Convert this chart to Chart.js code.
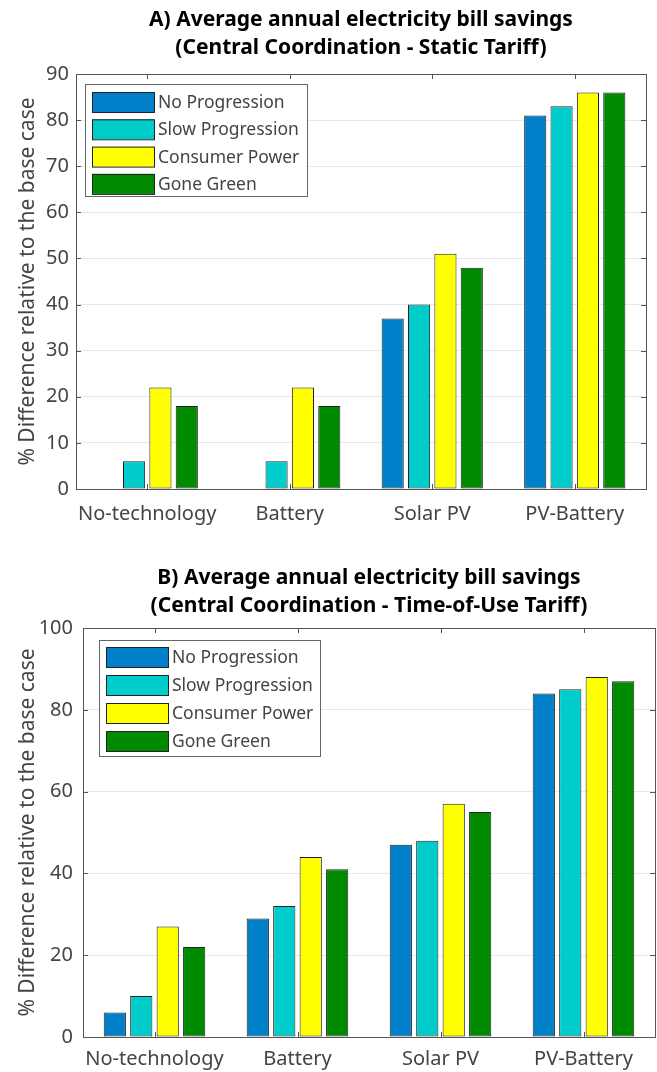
<!DOCTYPE html>
<html>
<head>
<meta charset="utf-8">
<script src="https://cdn.jsdelivr.net/npm/chart.js@4.4.1/dist/chart.umd.min.js"></script>
<style>
  body { margin: 0; background: #fff; width: 657px; height: 1072px; overflow: hidden; position: relative; }
  .box { position: absolute; left: 0; width: 657px; }
</style>
</head>
<body>
<div class="box" style="top:0;height:545px"><canvas id="chartA"></canvas></div>
<div class="box" style="top:560px;height:512px"><canvas id="chartB"></canvas></div>
<script>
const categories = ['No-technology', 'Battery', 'Solar PV', 'PV-Battery'];
const scenarioNames = ['No Progression', 'Slow Progression', 'Consumer Power', 'Gone Green'];
const scenarioColors = ['#0080c8', '#00cccc', '#ffff00', '#008a00'];

// A) static tariff
const staticNoProgression = [0, 0, 37, 81];
const staticSlowProgression = [6, 6, 40, 83];
const staticConsumerPower = [22, 22, 51, 86];
const staticGoneGreen = [18, 18, 48, 86];

// B) time-of-use tariff
const touNoProgression = [6, 29, 47, 84];
const touSlowProgression = [10, 32, 48, 85];
const touConsumerPower = [27, 44, 57, 88];
const touGoneGreen = [22, 41, 55, 87];

const yTicksA = [0, 10, 20, 30, 40, 50, 60, 70, 80, 90];
const yTicksB = [0, 20, 40, 60, 80, 100];

Chart.defaults.font.family = "'Noto Sans', sans-serif";
Chart.defaults.color = '#444';

// box around the plot, inward ticks, legend inside the axes
const matlabAxes = {
  id: 'matlabAxes',
  afterDatasetsDraw(chart, args, opts) {
    const ctx = chart.ctx;
    const a = chart.chartArea;
    const x = chart.scales.x, y = chart.scales.y;
    ctx.save();
    ctx.strokeStyle = '#555';
    ctx.lineWidth = 1;
    ctx.beginPath();
    y.ticks.forEach(t => {
      const py = Math.round(y.getPixelForValue(t.value)) + 0.5;
      ctx.moveTo(a.left, py); ctx.lineTo(a.left + 5, py);
      ctx.moveTo(a.right, py); ctx.lineTo(a.right - 5, py);
    });
    categories.forEach((c, i) => {
      const px = Math.round(x.getPixelForValue(i)) + 0.5;
      ctx.moveTo(px, a.top); ctx.lineTo(px, a.top + 5);
      ctx.moveTo(px, a.bottom); ctx.lineTo(px, a.bottom - 5);
    });
    ctx.stroke();
    ctx.strokeRect(Math.round(a.left) + 0.5, Math.round(a.top) + 0.5, Math.round(a.right - a.left), Math.round(a.bottom - a.top));

    // legend
    const lx = a.left + opts.dx, ly = a.top + opts.dy;
    ctx.fillStyle = '#fff';
    ctx.fillRect(lx, ly, opts.w, opts.h);
    ctx.strokeStyle = '#666';
    ctx.strokeRect(lx + 0.5, ly + 0.5, opts.w, opts.h);
    ctx.font = "17.5px 'Noto Sans', sans-serif";
    ctx.textBaseline = 'middle';
    chart.data.datasets.forEach((ds, i) => {
      const cy = ly + opts.first + i * opts.step;
      ctx.fillStyle = ds.backgroundColor;
      ctx.fillRect(lx + 7, cy - 10, 62, 20);
      ctx.strokeStyle = '#222';
      ctx.strokeRect(lx + 7.5, cy - 9.5, 62, 20);
      ctx.fillStyle = '#444';
      ctx.fillText(ds.label, lx + 73, cy + 1);
    });
    ctx.restore();
  }
};

function makeChart(id, title, series, ticks, max, geo) {
  new Chart(document.getElementById(id), {
    type: 'bar',
    data: {
      labels: categories,
      datasets: series.map((s, i) => ({
        label: scenarioNames[i],
        data: s,
        backgroundColor: scenarioColors[i],
        borderColor: '#222',
        borderWidth: 1,
        borderSkipped: false,
        categoryPercentage: 0.74,
        barPercentage: 0.84
      }))
    },
    options: {
      responsive: true,
      maintainAspectRatio: false,
      animation: false,
      layout: { padding: { left: 0, right: geo.right, top: 0, bottom: 0 } },
      plugins: {
        legend: { display: false },
        tooltip: { enabled: false },
        title: {
          display: true,
          fullSize: false,
          text: title,
          color: '#000',
          font: { size: 21, weight: 'bold', lineHeight: 28 / 21 },
          padding: { top: geo.titleTop, bottom: geo.titleBottom }
        },
        matlabAxes: geo.legend
      },
      scales: {
        x: {
          grid: { display: false, drawTicks: false },
          border: { display: false },
          ticks: { font: { size: 20 }, color: '#444', padding: geo.xPad, maxRotation: 0 },
          afterFit(s) { s.height = geo.xHeight; }
        },
        y: {
          min: 0,
          max: max,
          afterBuildTicks(s) { s.ticks = ticks.map(v => ({ value: v })); },
          grid: { color: '#e8e8e8', drawTicks: false },
          border: { display: false },
          ticks: { font: { size: 20 }, color: '#444', padding: geo.yPad },
          title: {
            display: true,
            text: '% Difference relative to the base case',
            font: { size: 21 },
            color: '#444',
            padding: { top: 15, bottom: 0 }
          },
          afterFit(s) { s.width = geo.yWidth; }
        }
      }
    },
    plugins: [matlabAxes]
  });
}

makeChart('chartA',
  ['A) Average annual electricity bill savings', '(Central Coordination - Static Tariff)'],
  [staticNoProgression, staticSlowProgression, staticConsumerPower, staticGoneGreen],
  yTicksA, 90,
  { right: 11, titleTop: 6, titleBottom: 12, xHeight: 56, xPad: 13, yPad: 7, yWidth: 76,
    legend: { dx: 9, dy: 10, w: 222, h: 112, first: 18, step: 27.3 } });

makeChart('chartB',
  ['B) Average annual electricity bill savings', '(Central Coordination - Time-of-Use Tariff)'],
  [touNoProgression, touSlowProgression, touConsumerPower, touGoneGreen],
  yTicksB, 100,
  { right: 2, titleTop: 4, titleBottom: 8, xHeight: 35, xPad: 10, yPad: 10, yWidth: 83,
    legend: { dx: 16, dy: 12, w: 221, h: 116, first: 17, step: 28 } });
</script>
</body>
</html>
